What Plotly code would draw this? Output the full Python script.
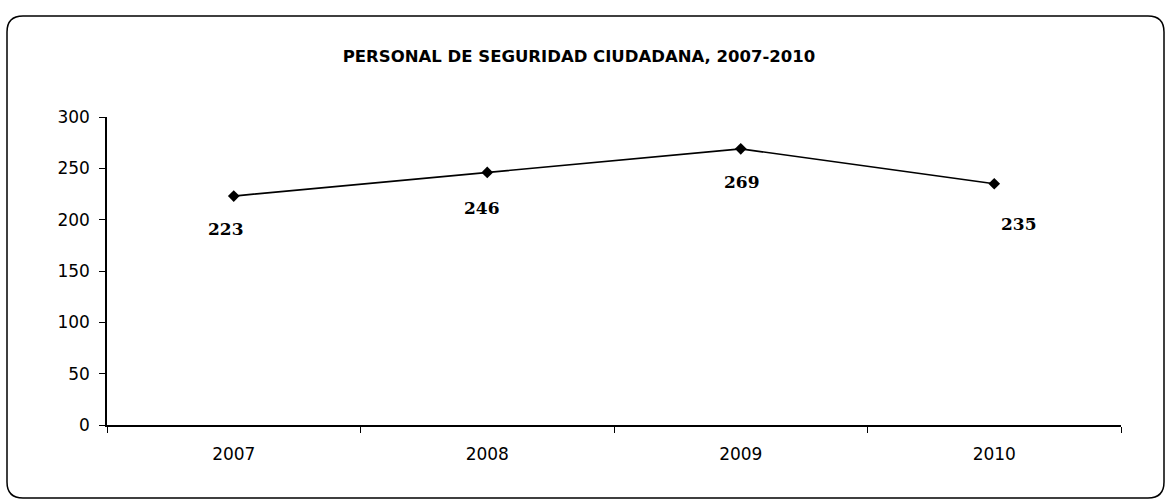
import plotly.graph_objects as go

years = ["2007", "2008", "2009", "2010"]
personal = [223, 246, 269, 235]
y_ticks = [0, 50, 100, 150, 200, 250, 300]
title_text = "PERSONAL DE SEGURIDAD CIUDADANA, 2007-2010"

# label offsets in pixels (dx, dy)
label_offsets = [(-8, -33), (-5, -36), (1, -33), (25, -40)]

W, H = 1165, 501
L, R, T, B = 107, 44, 117, 76

fig = go.Figure()
fig.add_trace(go.Scatter(
    x=years, y=personal, mode="lines+markers",
    line=dict(color="black", width=1.7),
    marker=dict(symbol="diamond", size=9, color="black"),
    hoverinfo="x+y", showlegend=False,
))

for i, (v, (dx, dy)) in enumerate(zip(personal, label_offsets)):
    fig.add_annotation(x=i, y=v, xref="x", yref="y", text="<b>" + str(v) + "</b>",
                       showarrow=False, xshift=dx, yshift=dy,
                       font=dict(family="DejaVu Serif", size=17, color="black"))

# rounded border in paper coords
def px(x):
    return (x - L) / (W - L - R)
def py(y):
    return (H - B - y) / (H - T - B)

x0, x1, y0, y1, r = 7, 1164, 16, 498, 16
path = (f"M {px(x0+r)},{py(y0)} L {px(x1-r)},{py(y0)} "
        f"Q {px(x1)},{py(y0)} {px(x1)},{py(y0+r)} "
        f"L {px(x1)},{py(y1-r)} Q {px(x1)},{py(y1)} {px(x1-r)},{py(y1)} "
        f"L {px(x0+r)},{py(y1)} Q {px(x0)},{py(y1)} {px(x0)},{py(y1-r)} "
        f"L {px(x0)},{py(y0+r)} Q {px(x0)},{py(y0)} {px(x0+r)},{py(y0)} Z")
fig.add_shape(type="path", path=path, xref="paper", yref="paper",
              line=dict(color="black", width=1.5), layer="above")

fig.update_layout(
    width=W, height=H,
    margin=dict(l=L, r=R, t=T, b=B),
    paper_bgcolor="white", plot_bgcolor="white",
    title=dict(text="<b>" + title_text + "</b>", x=579 / W, xanchor="center",
               y=1 - 56 / H, yanchor="middle",
               font=dict(family="DejaVu Sans", size=16.5, color="black")),
    font=dict(family="DejaVu Sans", color="black"),
)
fig.update_xaxes(type="category", tickson="boundaries", ticks="outside", ticklen=6,
                 tickcolor="black", showline=True, linecolor="black", linewidth=1.5,
                 showgrid=False, zeroline=False,
                 tickfont=dict(family="DejaVu Sans", size=17, color="black"),
                 ticklabelstandoff=13, range=[-0.5, 3.5])
fig.update_yaxes(range=[0, 300], tickvals=y_ticks, ticks="outside", ticklen=6,
                 tickcolor="black", showline=True, linecolor="black", linewidth=1.5,
                 showgrid=False, zeroline=False,
                 tickfont=dict(family="DejaVu Sans", size=17, color="black"),
                 ticklabelstandoff=6)

fig.write_html("out.html", config={"displayModeBar": False},
               post_script="document.body.style.margin='0';")
